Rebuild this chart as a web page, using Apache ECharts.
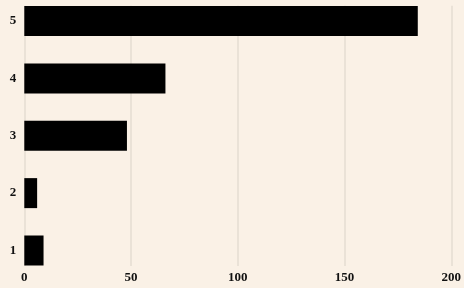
<!DOCTYPE html>
<html><head><meta charset="utf-8">
<script src="https://cdn.jsdelivr.net/npm/echarts@6/dist/echarts.min.js"></script>
<style>html,body{margin:0;padding:0;background:#faf1e6}#c{width:464px;height:288px}</style>
</head><body><div id="c"></div>
<script>
var categories = ['1', '2', '3', '4', '5'];
var values = [9, 6, 48, 66, 184];
var xTicks = [0, 50, 100, 150, 200];

var font = {fontFamily: 'Liberation Serif', fontWeight: 'bold', fontSize: 13, color: '#111'};
var chart = echarts.init(document.getElementById('c'), null, {renderer: 'canvas'});
chart.setOption({
  backgroundColor: '#faf1e6',
  animation: false,
  grid: [
    {left: 24.3, right: 12, top: 21, bottom: 37.5},
    {left: 24.3, right: 12, top: 5.7, bottom: 22}
  ],
  xAxis: [
    {gridIndex: 0, type: 'value', min: xTicks[0], max: xTicks[xTicks.length - 1], show: false},
    {gridIndex: 1, type: 'value', min: xTicks[0], max: xTicks[xTicks.length - 1], interval: 50,
     axisLine: {show: false}, axisTick: {show: false},
     splitLine: {show: true, lineStyle: {color: '#e4ddd2', width: 1.5}},
     axisLabel: Object.assign({margin: 5}, font)}
  ],
  yAxis: [
    {gridIndex: 0, type: 'category', data: categories, boundaryGap: false,
     axisLine: {show: false}, axisTick: {show: false}, splitLine: {show: false},
     axisLabel: Object.assign({margin: 8}, font)},
    {gridIndex: 1, type: 'value', show: false, min: 0, max: 1}
  ],
  series: [{
    type: 'bar', xAxisIndex: 0, yAxisIndex: 0,
    data: values, barWidth: 30,
    itemStyle: {color: '#000'}
  }]
});
</script></body></html>
